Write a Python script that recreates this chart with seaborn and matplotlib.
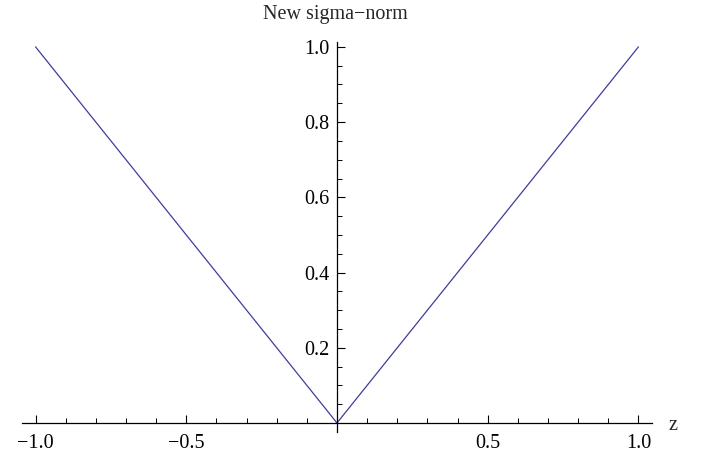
import numpy as np
import pandas as pd
import matplotlib
matplotlib.use("Agg")
import matplotlib.pyplot as plt
import matplotlib.ticker as mticker
import seaborn as sns

# Sigma-norm sampled at its breakpoints
z_values = [-1.0, 0.0, 1.0]
norm_values = [1.0, 0.0, 1.0]

x_major_ticks = [-1.0, -0.5, 0.5, 1.0]
x_tick_labels = ["\u22121.0", "\u22120.5", "0.5", "1.0"]
y_major_ticks = [0.2, 0.4, 0.6, 0.8, 1.0]
y_tick_labels = ["0.2", "0.4", "0.6", "0.8", "1.0"]

FS = 14.5

sns.set_theme(style="white")
plt.rcParams["font.family"] = ["Liberation Serif", "DejaVu Serif"]
plt.rcParams["font.size"] = FS

df = pd.DataFrame({"z": z_values, "norm": norm_values})

fig = plt.figure(figsize=(7.07, 4.54), dpi=100)
ax = fig.add_axes([22 / 707, 1 - 432 / 454, (652 - 22) / 707, (432 - 42) / 454])

sns.lineplot(data=df, x="z", y="norm", ax=ax, color="#3D3D99", linewidth=0.9)

ax.set_xlim(-1.045, 1.045)
ax.set_ylim(-0.024, 1.013)

for side in ("top", "right"):
    ax.spines[side].set_visible(False)
ax.spines["left"].set_position(("data", 0))
ax.spines["bottom"].set_position(("data", 0))
for side in ("left", "bottom"):
    ax.spines[side].set_color("black")
    ax.spines[side].set_linewidth(0.9)

ax.set_xticks(x_major_ticks)
ax.set_xticklabels(x_tick_labels)
ax.set_yticks(y_major_ticks)
ax.set_yticklabels(y_tick_labels)
ax.xaxis.set_minor_locator(mticker.MultipleLocator(0.1))
ax.yaxis.set_minor_locator(mticker.MultipleLocator(0.05))

ax.tick_params(axis="x", which="major", direction="in", length=6, width=0.8, pad=8,
               colors="black", labelsize=FS)
ax.tick_params(axis="x", which="minor", direction="in", length=3.5, width=0.7, colors="black")
ax.tick_params(axis="y", which="major", direction="in", length=6, width=0.8, pad=5.5,
               colors="black", labelsize=FS)
ax.tick_params(axis="y", which="minor", direction="in", length=3.5, width=0.7, colors="black")
ax.xaxis.set_ticks_position("bottom")
ax.yaxis.set_ticks_position("left")

ax.set_xlabel("")
ax.set_ylabel("")
ax.grid(False)
ax.set_facecolor("white")

ax.annotate("z", xy=(1.0, 0), xycoords=("axes fraction", "data"),
            xytext=(12, -2), textcoords="offset points",
            ha="left", va="center", fontsize=FS)

fig.text(335.5 / 707, 1 - 14 / 454, "New sigma\u2212norm", ha="center", va="center", fontsize=FS)

fig.savefig("out.png", dpi=100, facecolor="white")
